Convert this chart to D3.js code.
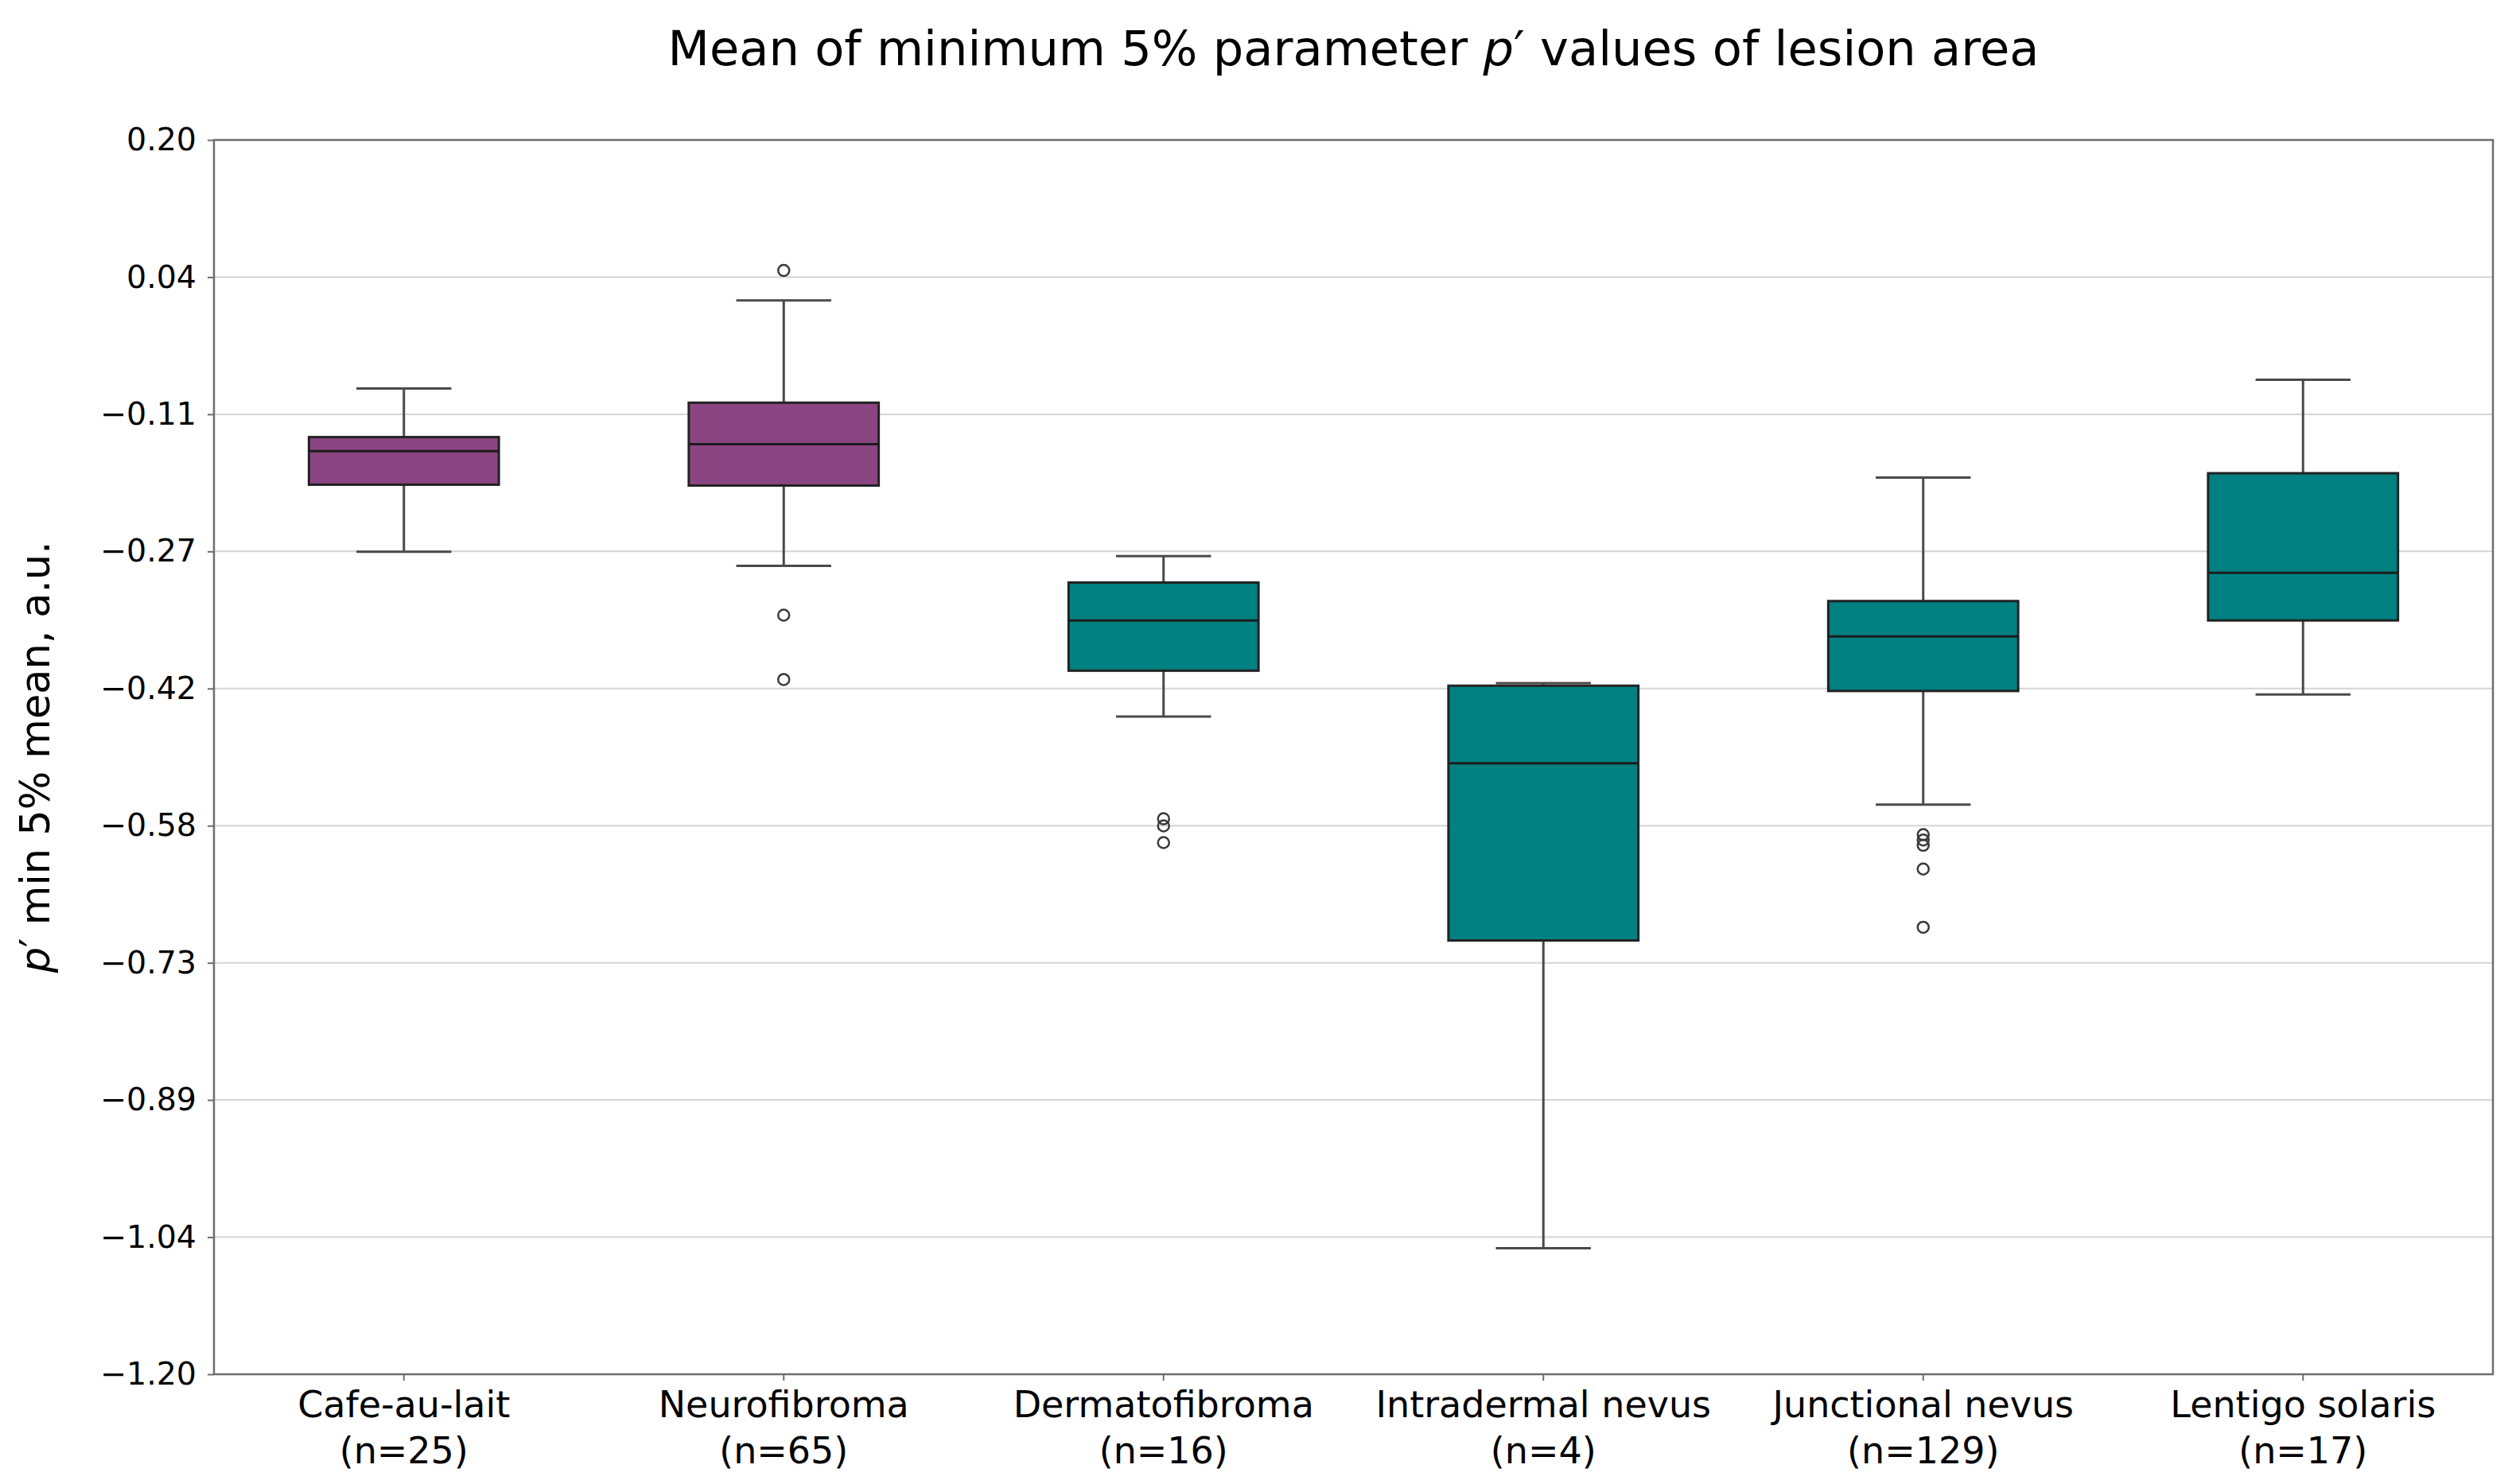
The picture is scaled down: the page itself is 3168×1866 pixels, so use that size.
<!DOCTYPE html>
<html>
<head>
<meta charset="utf-8">
<script src="https://cdn.jsdelivr.net/npm/d3@7"></script>
<style>
  html, body { margin: 0; padding: 0; background: #fff; }
  text { font-family: "DejaVu Sans", sans-serif; }
</style>
</head>
<body>
<div id="chart"></div>
<script>
// values
const categories = ["Cafe-au-lait", "Neurofibroma", "Dermatofibroma", "Intradermal nevus", "Junctional nevus", "Lentigo solaris"];
const counts = [25, 65, 16, 4, 129, 17];
const groups = ["purple", "purple", "teal", "teal", "teal", "teal"];
const whiskerHigh = [-0.082, 0.018, -0.272, -0.416, -0.183, -0.072];
const q3 = [-0.137, -0.098, -0.302, -0.419, -0.323, -0.178];
const medians = [-0.153, -0.145, -0.345, -0.507, -0.363, -0.291];
const q1 = [-0.191, -0.192, -0.402, -0.708, -0.425, -0.345];
const whiskerLow = [-0.267, -0.283, -0.454, -1.057, -0.554, -0.429];
const outliers = [
  [],
  [0.052, -0.339, -0.412],
  [-0.570, -0.578, -0.597],
  [],
  [-0.588, -0.594, -0.600, -0.627, -0.693],
  []
];
const yTickLabels = ["0.20", "0.04", "\u22120.11", "\u22120.27", "\u22120.42", "\u22120.58", "\u22120.73", "\u22120.89", "\u22121.04", "\u22121.20"];
const yMin = -1.2, yMax = 0.2;

const colors = { purple: "#8b4582", teal: "#008080" };

const width = 3168, height = 1866;
const margin = { top: 176, right: 34, bottom: 138, left: 269 };
const labelFont = "Open Sans";

let svg = d3.select("#chart").append("svg")
  .attr("width", width)
  .attr("height", height);

let x = d3.scaleBand()
  .domain(categories)
  .range([margin.left, width - margin.right])
  .padding(0);

let y = d3.scaleLinear()
  .domain([yMin, yMax])
  .range([height - margin.bottom, margin.top]);

// ticks sit at evenly spaced positions, labels are rounded
let yTickValues = yTickLabels.map((d, i) => yMax - i * (yMax - yMin) / (yTickLabels.length - 1));

// grid
svg.append("g")
  .selectAll("line")
  .data(yTickValues.slice(1, -1))
  .join("line")
  .attr("x1", margin.left)
  .attr("x2", width - margin.right)
  .attr("y1", (d) => y(d))
  .attr("y2", (d) => y(d))
  .attr("stroke", "#d4d4d4")
  .attr("stroke-width", 2);

let bw = x.bandwidth();
let boxW = bw * 0.5;
let capW = bw * 0.25;

let data = categories.map((c, i) => ({
  cat: c,
  lo: whiskerLow[i], q1: q1[i], med: medians[i], q3: q3[i], hi: whiskerHigh[i],
  fliers: outliers[i],
  color: colors[groups[i]]
}));

let box = svg.append("g").selectAll("g")
  .data(data)
  .join("g")
  .attr("transform", (d) => `translate(${x(d.cat) + bw / 2},0)`);

// whiskers
box.append("line")
  .attr("y1", (d) => y(d.q3)).attr("y2", (d) => y(d.hi))
  .attr("stroke", "#4a4a4a").attr("stroke-width", 3);
box.append("line")
  .attr("y1", (d) => y(d.q1)).attr("y2", (d) => y(d.lo))
  .attr("stroke", "#4a4a4a").attr("stroke-width", 3);
box.append("line")
  .attr("x1", -capW / 2).attr("x2", capW / 2)
  .attr("y1", (d) => y(d.hi)).attr("y2", (d) => y(d.hi))
  .attr("stroke", "#4a4a4a").attr("stroke-width", 3);
box.append("line")
  .attr("x1", -capW / 2).attr("x2", capW / 2)
  .attr("y1", (d) => y(d.lo)).attr("y2", (d) => y(d.lo))
  .attr("stroke", "#4a4a4a").attr("stroke-width", 3);

// boxes
box.append("rect")
  .attr("x", -boxW / 2)
  .attr("width", boxW)
  .attr("y", (d) => y(d.q3))
  .attr("height", (d) => y(d.q1) - y(d.q3))
  .attr("fill", (d) => d.color)
  .attr("stroke", "#222")
  .attr("stroke-width", 3);

box.append("line")
  .attr("x1", -boxW / 2).attr("x2", boxW / 2)
  .attr("y1", (d) => y(d.med)).attr("y2", (d) => y(d.med))
  .attr("stroke", "#1c1c1c").attr("stroke-width", 3);

// fliers
box.selectAll("circle")
  .data((d) => d.fliers)
  .join("circle")
  .attr("cx", 0)
  .attr("cy", (d) => y(d))
  .attr("r", 7)
  .attr("fill", "none")
  .attr("stroke", "#3a3a3a")
  .attr("stroke-width", 2.5);

// frame
svg.append("rect")
  .attr("x", margin.left)
  .attr("y", margin.top)
  .attr("width", width - margin.right - margin.left)
  .attr("height", height - margin.bottom - margin.top)
  .attr("fill", "none")
  .attr("stroke", "#6e6e6e")
  .attr("stroke-width", 2.5);

// y axis
let yAxis = svg.append("g")
  .attr("transform", `translate(${margin.left},0)`)
  .call(d3.axisLeft(y).tickValues(yTickValues).tickFormat((d, i) => yTickLabels[i]).tickSize(8).tickPadding(14));
yAxis.select(".domain").remove();
yAxis.selectAll(".tick line").attr("stroke", "#6e6e6e").attr("stroke-width", 2);
yAxis.selectAll(".tick text").attr("font-size", 39.5).attr("fill", "#000")
  .attr("font-family", "DejaVu Sans");

// x axis
let xAxis = svg.append("g")
  .attr("transform", `translate(0,${height - margin.bottom})`)
  .call(d3.axisBottom(x).tickSize(8).tickFormat(""));
xAxis.select(".domain").remove();
xAxis.selectAll(".tick line").attr("stroke", "#6e6e6e").attr("stroke-width", 2);

let xLabels = svg.append("g").selectAll("text")
  .data(categories)
  .join("text")
  .attr("text-anchor", "middle")
  .attr("font-family", labelFont)
  .attr("font-size", 46)
  .attr("fill", "#000")
  .attr("x", (d) => x(d) + bw / 2)
  .attr("y", 1782);
xLabels.append("tspan").text((d) => d);
xLabels.append("tspan")
  .attr("x", (d) => x(d) + bw / 2)
  .attr("dy", 58)
  .text((d, i) => `(n=${counts[i]})`);

// title
let title = svg.append("text")
  .attr("x", (margin.left + width - margin.right) / 2)
  .attr("y", 82)
  .attr("text-anchor", "middle")
  .attr("font-family", labelFont)
  .attr("font-size", 60.7)
  .attr("fill", "#000");
title.append("tspan").text("Mean of minimum 5% parameter ");
title.append("tspan").attr("font-style", "italic").attr("font-family", "DejaVu Sans").text("p");
title.append("tspan").text("\u2032 values of lesion area");

// y label
let ylab = svg.append("text")
  .attr("transform", `translate(62,${(margin.top + height - margin.bottom) / 2}) rotate(-90)`)
  .attr("text-anchor", "middle")
  .attr("font-family", labelFont)
  .attr("font-size", 51)
  .attr("fill", "#000");
ylab.append("tspan").attr("font-style", "italic").attr("font-family", "DejaVu Sans").text("p");
ylab.append("tspan").text("\u2032 min 5% mean, a.u.");
</script>
</body>
</html>
